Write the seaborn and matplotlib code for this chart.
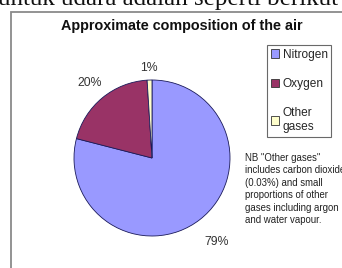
import matplotlib
matplotlib.use("Agg")
import matplotlib.pyplot as plt
import seaborn as sns
import numpy as np
from matplotlib.patches import Rectangle

sns.set_theme(style="white")
plt.rcParams['font.family'] = ['Liberation Sans', 'DejaVu Sans']

categories = ["Nitrogen", "Oxygen", "Other\ngases"]
values = [79, 20, 1]
colors = ["#9999FF", "#993366", "#FFFFCC"]
title = "Approximate composition of the air"
note = ('NB "Other gases"\nincludes carbon dioxide\n(0.03%) and small\n'
        'proportions of other\ngases including argon\nand water vapour.')
header = "untuk udara adalah seperti berikut"

W, H = 342, 268
fig = plt.figure(figsize=(W / 100, H / 100), dpi=100)
fig.patch.set_facecolor("white")

# clipped header text from the page
fig.text(338 / W, 1 - 5 / H, header, fontsize=18, family=['Liberation Serif', 'DejaVu Serif'],
         ha="right", va="baseline", color="#111111")

# chart frame
fig.add_artist(Rectangle((11 / W, -0.1), 1.0, 1 - 12 / H + 0.1, transform=fig.transFigure,
                         facecolor="none", edgecolor="#8a8a8a", lw=1.3, zorder=0))

fig.text(182 / W, 1 - 26 / H, title, fontsize=10.4, fontweight="bold", ha="center", va="center",
         color="#111111")

cx, cy, r = 152, 158, 78
ax = fig.add_axes([(cx - r) / W, (H - cy - r) / H, 2 * r / W, 2 * r / H])
ax.patch.set_alpha(0)
wedges, texts = ax.pie(values, colors=colors, startangle=90, counterclock=False,
                       labels=[f"{v}%" for v in values], labeldistance=1.25,
                       wedgeprops=dict(edgecolor="#1a1a5a", linewidth=0.6),
                       textprops=dict(fontsize=8.8, color="#333333"))
dists = [1.36, 1.25, 1.15]
for t, d in zip(texts, dists):
    x, y = t.get_position()
    n = np.hypot(x, y)
    t.set_position((x / n * d, y / n * d))
    t.set_ha("center")
    t.set_va("center")
ax.set_aspect("equal")
ax.set_xlim(-1, 1)
ax.set_ylim(-1, 1)
ax.axis("off")

leg = fig.legend(wedges, categories, loc="upper left",
                 bbox_to_anchor=(267 / W, 1 - 45 / H), fontsize=8.6,
                 frameon=True, fancybox=False, edgecolor="#444444",
                 handlelength=0.7, handleheight=0.7, handletextpad=0.3,
                 labelspacing=1.45, borderpad=0.3, borderaxespad=0)
leg.get_frame().set_linewidth(0.8)
for h in leg.legend_handles:
    h.set_edgecolor("#333333")
    h.set_linewidth(0.6)

fig.text(245 / W, 1 - 153 / H, note, fontsize=6.9, ha="left", va="top",
         color="#222222", linespacing=1.3)

fig.savefig("out.png", dpi=100)
